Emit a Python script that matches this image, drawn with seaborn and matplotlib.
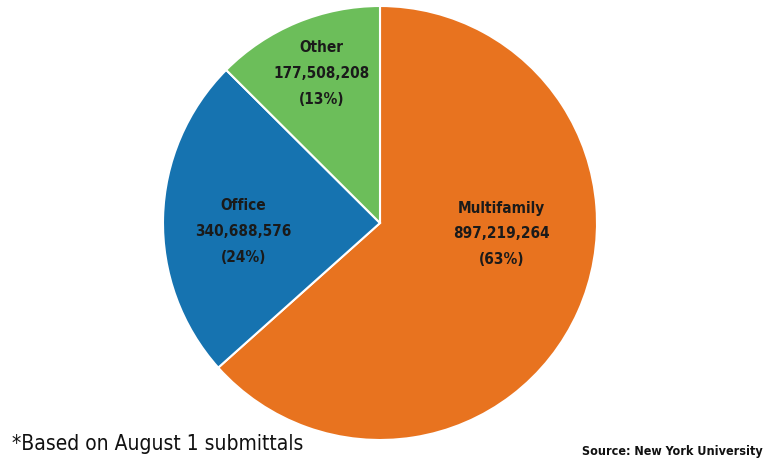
import matplotlib
matplotlib.use("Agg")
import matplotlib.pyplot as plt
import seaborn as sns

sns.set_theme(style="white")
plt.rcParams['font.family'] = ['DejaVu Sans']
plt.rcParams['font.stretch'] = 'condensed'

categories = ["Multifamily", "Office", "Other"]
square_feet = [897219264, 340688576, 177508208]
percent_labels = ["63%", "24%", "13%"]
colors = ["#E8731F", "#1673B0", "#6CBE5A"]
label_pos = [(0.56, -0.05), (-0.63, -0.04), (-0.27, 0.69)]

fig = plt.figure(figsize=(7.69, 4.67), dpi=100)
ax = fig.add_axes([163 / 769, 27 / 467, 434 / 769, 434 / 467])
ax.pie(square_feet, colors=colors, startangle=90, counterclock=False,
       wedgeprops=dict(edgecolor="white", linewidth=1.5))
ax.set_xlim(-1, 1)
ax.set_ylim(-1, 1)
ax.set_aspect("equal")

for name, val, pct, (x, y) in zip(categories, square_feet, percent_labels, label_pos):
    ax.text(x, y, f"{name}\n{val:,}\n({pct})", ha="center", va="center",
            fontsize=11, fontweight="bold", color="#1a1a1a", linespacing=1.9,
            fontstretch="condensed")

fig.text(12 / 769, 1 - 444 / 467, "*Based on August 1 submittals", fontsize=15,
         color="#111111", va="center", ha="left", fontstretch="condensed")
fig.text(763 / 769, 1 - 452 / 467, "Source: New York University", fontsize=9,
         fontweight="bold", color="#111111", va="center", ha="right",
         fontstretch="condensed")

fig.savefig("out.png", dpi=100)
